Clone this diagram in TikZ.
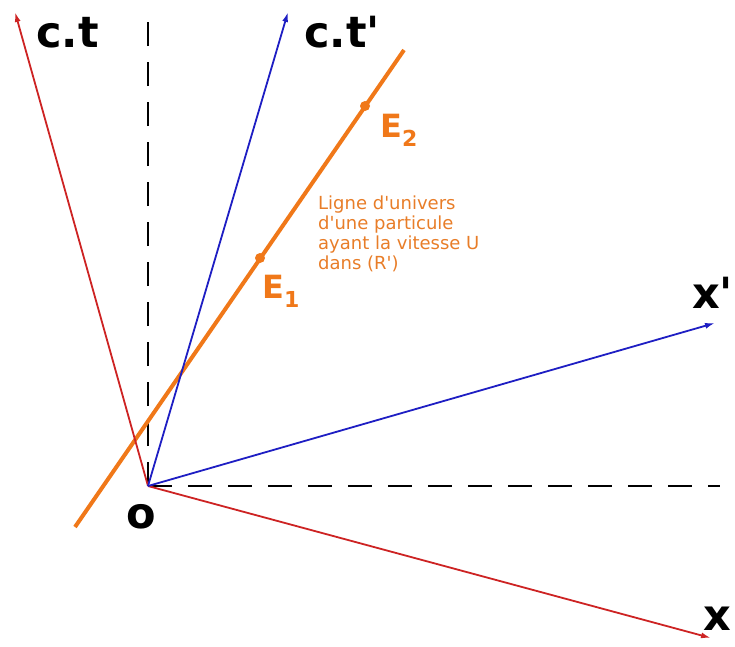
\documentclass[tikz,border=0pt]{standalone}
\usepackage{fontspec}
\setmainfont{DejaVu Sans}[Ligatures=TeXOff]
\usetikzlibrary{arrows.meta}
\definecolor{axred}{RGB}{205,35,35}
\definecolor{axblue}{RGB}{30,30,195}
\definecolor{wlorange}{RGB}{240,120,25}
\definecolor{txorange}{RGB}{232,125,40}
\begin{document}
\begin{tikzpicture}[x=1pt,y=-1pt,
  redaxis/.style={draw=axred,line width=1.8pt,-{Latex[length=10pt,width=6pt]}},
  blueaxis/.style={draw=axblue,line width=1.8pt,-{Latex[length=10pt,width=6pt]}},
  guide/.style={draw=black,line width=1.8pt,dash pattern=on 24pt off 16pt},
  worldline/.style={draw=wlorange,line width=4pt},
  event/.style={circle,fill=wlorange,inner sep=0pt,minimum size=10pt},
  biglabel/.style={inner sep=0pt,anchor=base west,font=\fontsize{43}{43}\selectfont\bfseries},
  evlabel/.style={inner sep=0pt,anchor=base west,text=wlorange,font=\fontsize{32}{32}\selectfont\bfseries},
  note/.style={inner sep=0pt,anchor=north west,align=left,text=txorange,font=\fontsize{18}{20}\selectfont}
]
\useasboundingbox (0,0) rectangle (735,646);
\coordinate (O) at (148,486);
\coordinate (ctR) at (15,12);
\coordinate (xR) at (711,638);
\coordinate (ctB) at (288,12);
\coordinate (xB) at (715,323);
\coordinate (vT) at (148,12);
\coordinate (hE) at (720,486);
\coordinate (wA) at (75,527);
\coordinate (wB) at (404,50);
% guides
\draw[guide] (O) -- (vT);
\draw[guide] (O) -- (hE);
% world line
\draw[worldline] (wA) -- (wB);
\node[event] (e1) at (260,258) {};
\node[event] (e2) at (365,106) {};
% axes
\draw[redaxis] (O) -- (ctR);
\draw[redaxis] (O) -- (xR);
\draw[blueaxis] (O) -- (ctB);
\draw[blueaxis] (O) -- (xB);
% labels
\node[biglabel] (lct) at (36,47) {c.t};
\node[biglabel] (lctp) at (304,47) {c.t'};
\node[biglabel] (lxp) at (692,308) {x'};
\node[biglabel] (lx) at (703,630) {x};
\node[biglabel] (lo) at (126,528) {o};
\node[evlabel] (le2) at (380,137) {E\raisebox{-9pt}{\fontsize{22}{22}\selectfont 2}};
\node[evlabel] (le1) at (262,298) {E\raisebox{-9pt}{\fontsize{22}{22}\selectfont 1}};
\node[note] (txt) at (318,196) {Ligne d'univers\\d'une particule\\ayant la vitesse U\\dans (R')};
\end{tikzpicture}
\end{document}
